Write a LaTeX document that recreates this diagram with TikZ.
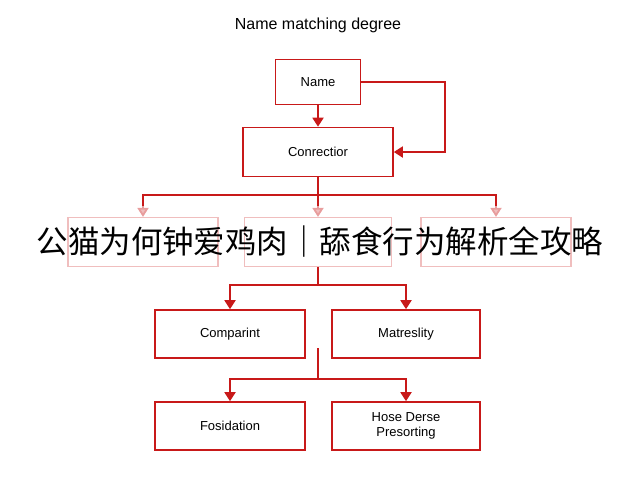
\documentclass[tikz,border=0pt]{standalone}
\usepackage{fontspec}
\setmainfont{Liberation Sans}
\newfontfamily\cjk{Noto Sans CJK SC}
\usetikzlibrary{arrows.meta,positioning}
\definecolor{linered}{RGB}{200,25,25}
\definecolor{fadered}{RGB}{240,190,190}
\tikzset{
  box/.style={draw=linered, line width=1.6pt, minimum width=150pt, minimum height=48pt, align=center, font=\fontsize{13}{15}\selectfont},
  fadebox/.style={draw=fadered, line width=1.2pt, minimum width=150pt, minimum height=49pt},
  link/.style={linered, line width=1.8pt, -{Triangle[length=9pt,width=11pt]}},
  fadelink/.style={fadered!80!linered, line width=1.8pt, -{Triangle[length=9pt,width=11pt,fill=fadered]}}
}
\begin{document}
\begin{tikzpicture}[x=1pt,y=1pt]
\useasboundingbox (0,0) rectangle (640,-480);
\node[font=\fontsize{16}{18}\selectfont] (title) at (318,-25) {Name matching degree};
\node[box, minimum width=85pt, minimum height=45pt] (name) at (318,-82) {Name};
\node[box, minimum height=49pt] (conn) at (318,-152) {Conrectior};
% faded row
\node[fadebox] (f1) at (143,-242) {};
\node[fadebox, minimum width=147pt] (f2) at (318,-242) {};
\node[fadebox] (f3) at (496,-242) {};
\node[box] (cmp) at (230,-334) {Comparint};
\node[box, minimum width=148pt] (mat) at (406,-334) {Matreslity};
\node[box] (fos) at (230,-426) {Fosidation};
\node[box, minimum width=148pt] (hose) at (406,-426) {Hose Derse\\Presorting};
\coordinate (j1) at (318,-195);
\coordinate (j2) at (318,-285);
\coordinate (j3) at (318,-379);
\coordinate (top3) at (318,-348);
\draw[link] (name) -- (conn);
\draw[link] (name.east) -| (445,-152) -- (conn.east);
\draw[linered, line width=1.8pt] (conn) -- (j1);
\draw[linered, line width=1.8pt] (j1) -| (f1.north |- 0,-207);
\draw[linered, line width=1.8pt] (j1) -| (f3.north |- 0,-207);
\foreach \f in {f1,f2,f3}
  \draw[fadelink] (\f.north |- 0,-206) -- (\f.north);
\draw[linered, line width=1.8pt] (j1) -- (318,-206);
\draw[linered, line width=1.8pt] (f2) -- (j2);
\draw[link] (j2) -| (cmp.north);
\draw[link] (j2) -| (mat.north);
\draw[linered, line width=1.8pt] (top3) -- (j3);
\draw[link] (j3) -| (fos.north);
\draw[link] (j3) -| (hose.north);
\node[font=\cjk\fontsize{31.5}{34}\selectfont, inner sep=0pt] (overlay) at (320,-242) {公猫为何钟爱鸡肉｜舔食行为解析全攻略};
\end{tikzpicture}
\end{document}
